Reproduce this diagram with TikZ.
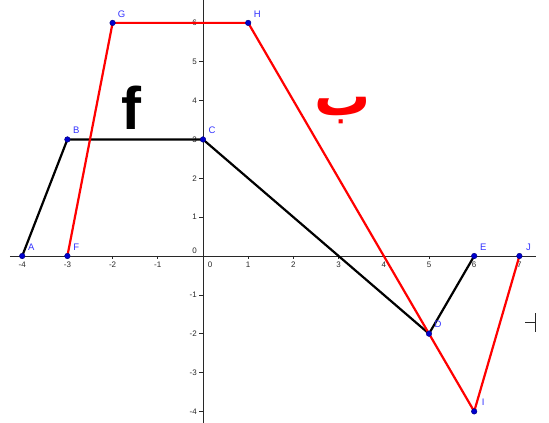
\documentclass[tikz,border=0pt]{standalone}
\usepackage{fontspec}
\setmainfont{Liberation Sans}
\newfontfamily\arabicfont[Script=Arabic]{DejaVu Sans}
\TeXXeTstate=1
\usetikzlibrary{calc,positioning}
\definecolor{ptblue}{RGB}{0,0,205}
\definecolor{lblblue}{RGB}{50,50,255}
\definecolor{axisgray}{RGB}{40,40,40}

\begin{document}
\begin{tikzpicture}[
    x=45.2pt, y=38.85pt,
    axisline/.style={draw=axisgray, line width=0.8pt},
    tickline/.style={draw=axisgray, line width=0.6pt},
    ticklbl/.style={font=\fontsize{8}{9}\selectfont, text=axisgray, inner sep=0pt},
    fline/.style={draw=black, line width=2.2pt, line join=round},
    gline/.style={draw=red, line width=2.2pt, line join=round},
    dot/.style={circle, fill=ptblue, draw=ptblue!60!black, line width=0.4pt, minimum size=5.6pt, inner sep=0pt},
    ptlbl/.style={font=\fontsize{9.5}{10}\selectfont, text=lblblue, inner sep=0pt}
]
  \useasboundingbox (-203pt,-167pt) rectangle (346pt,256pt);

  % axes
  \coordinate (xmin) at (-193pt,0);
  \coordinate (xmax) at (333pt,0);
  \coordinate (ymin) at (0,-167pt);
  \coordinate (ymax) at (0,256pt);
  \draw[axisline] (xmin) -- (xmax);
  \draw[axisline] (ymin) -- (ymax);

  \foreach \t in {-4,-3,-2,-1,1,2,3,4,5,6,7} {
    \draw[tickline] (\t,0) -- ++(0,-3pt);
    \node[ticklbl] (xlbl\t) at ($(\t,0)+(0,-9pt)$) {\t};
  }
  \node[ticklbl] (xlbl0) at (7pt,-9pt) {0};
  \foreach \t in {-4,-3,-2,-1,1,2,3,4,5,6} {
    \draw[tickline] (0,\t) -- ++(-3.5pt,0);
    \node[ticklbl, anchor=east] (ylbl\t) at ($(0,\t)+(-6pt,0)$) {\t};
  }
  \node[ticklbl, anchor=east] (ylbl0) at (-6pt,5pt) {0};

  % points
  \foreach \n/\x/\y in {A/-4/0, B/-3/3, C/0/3, D/5/-2, E/6/0,
                        F/-3/0, G/-2/6, H/1/6, I/6/-4, J/7/0}
    \coordinate (\n) at (\x,\y);

  \draw[fline] (A) -- (B) -- (C) -- (D) -- (E);
  \draw[gline] (F) -- (G) -- (H) -- (I) -- (J);

  \foreach \n in {A,B,C,D,E,F,G,H,I,J} {
    \node[dot] (\n-dot) at (\n) {};
    \node[ptlbl] (\n-lbl) at ($(\n)+(9pt,9pt)$) {\n};
  }

  % function names
  \node[font=\fontsize{60}{60}\bfseries\selectfont, inner sep=0pt] (fname) at (-72pt,148pt) {f};
  \node[font=\arabicfont\fontsize{56}{56}\bfseries\selectfont, text=red, inner sep=0pt] (gname) at (140pt,145pt) {\beginR ب\endR};

  % cursor mark
  \coordinate (cur) at (332pt,-66pt);
  \draw[axisgray, line width=0.9pt] (cur) -- ++(-10pt,0);
  \draw[axisgray, line width=0.9pt] ($(cur)+(0,9pt)$) -- ($(cur)+(0,-10pt)$);
\end{tikzpicture}
\end{document}
